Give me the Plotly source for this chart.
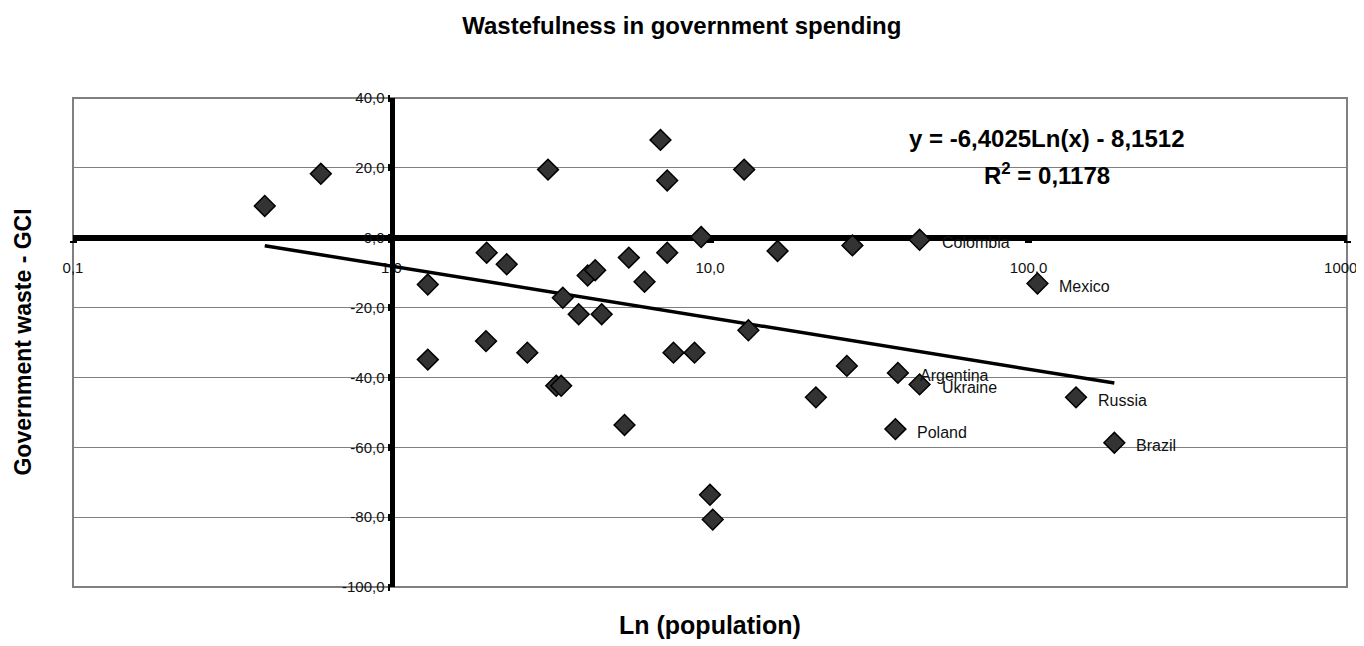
import numpy as np
import plotly.graph_objects as go

# population (log scale) vs government waste index
population = [0.40, 0.60, 1.30, 1.30, 1.99, 1.98, 2.30, 2.67, 3.10, 3.29,
              3.41, 3.45, 3.87, 4.13, 4.36, 4.57, 5.39, 5.56, 6.23, 6.99,
              7.34, 7.34, 7.68, 8.94, 9.38, 10.0, 10.2, 12.8, 13.2, 16.3,
              21.5, 26.9, 28.0, 45.5, 38.9, 45.5, 38.2, 106.7, 141.0, 186.0]
waste = [9.1, 18.3, -13.4, -34.9, -4.3, -29.6, -7.6, -32.9, 19.5, -42.4,
         -42.4, -17.2, -21.9, -10.8, -9.3, -21.9, -53.6, -5.7, -12.6, 28.0,
         16.4, -4.3, -32.9, -32.9, 0.2, -73.6, -80.7, 19.5, -26.5, -3.8,
         -45.7, -36.7, -2.2, -0.6, -38.7, -42.0, -54.8, -13.1, -45.7, -58.7]
names = [""] * 33 + ["Colombia", "Argentina", "Ukraine", "Poland",
                     "Mexico", "Russia", "Brazil"]

# logarithmic trendline shown on the chart
trend_a = -6.4025
trend_b = -8.1512
r_squared = "0,1178"

x_ticks = [0.1, 1, 10, 100, 1000]
x_ticktext = ["0,1", "1,0", "10,0", "100,0", "1000,0"]
y_ticks = [-100, -80, -60, -40, -20, 0, 20, 40]
y_ticktext = ["-100,0", "-80,0", "-60,0", "-40,0", "-20,0", "0,0", "20,0", "40,0"]

FONT = "Liberation Sans, Arial, sans-serif"

fig = go.Figure()

trend_x = np.array([min(population), max(population)])
trend_y = trend_a * np.log(trend_x) + trend_b
fig.add_trace(go.Scatter(
    x=trend_x, y=trend_y, mode="lines",
    line={"color": "black", "width": 3.5}, hoverinfo="skip"
))

fig.add_trace(go.Scatter(
    x=population, y=waste, mode="markers",
    marker={"symbol": "diamond", "size": 16, "color": "#333333",
            "line": {"color": "black", "width": 1.5}},
    text=names
))

for px, py, name in zip(population, waste, names):
    if name:
        fig.add_annotation(x=np.log10(px), y=py, text=name, showarrow=False,
                           xanchor="left", yanchor="middle", xshift=20, yshift=-3,
                           font={"family": FONT, "size": 16, "color": "#111"})

fig.add_annotation(xref="paper", yref="paper", x=0.7645, y=0.917,
                   text="y = %sLn(x) - %s" % (str(trend_a).replace(".", ","),
                                               str(-trend_b).replace(".", ",")),
                   showarrow=False, xanchor="center", yanchor="middle",
                   font={"family": FONT, "size": 24, "color": "black", "weight": "bold"})
fig.add_annotation(xref="paper", yref="paper", x=0.7645, y=0.8456,
                   text="R<sup>2</sup> = " + r_squared,
                   showarrow=False, xanchor="center", yanchor="middle",
                   font={"family": FONT, "size": 24, "color": "black", "weight": "bold"})

fig.add_annotation(xref="paper", yref="paper", x=0.5, y=-0.078,
                   text="Ln (population)", showarrow=False,
                   xanchor="center", yanchor="middle",
                   font={"family": FONT, "size": 25, "color": "black", "weight": "bold"})
fig.add_annotation(xref="paper", yref="paper", x=-0.04, y=0.5,
                   text="Government waste - GCI", showarrow=False, textangle=-90,
                   xanchor="center", yanchor="middle",
                   font={"family": FONT, "size": 23, "color": "black", "weight": "bold"})

# plot frame
fig.add_shape(type="rect", xref="paper", yref="paper", x0=0, y0=0, x1=1, y1=1,
              line={"color": "#808080", "width": 2}, layer="below")

fig.update_xaxes(
    type="log", range=[-1, 3], anchor="free", position=100 / 140,
    showline=True, linewidth=6, linecolor="black", showgrid=False, zeroline=False,
    tickvals=x_ticks, ticktext=x_ticktext, ticks="outside", ticklen=2,
    tickwidth=7, tickcolor="black", ticklabelstandoff=12,
    tickfont={"family": FONT, "size": 15, "color": "#111"},
    layer="below traces", automargin=False, fixedrange=True
)
fig.update_yaxes(
    range=[-100, 40], anchor="free", position=0.25,
    showline=True, linewidth=5, linecolor="black", showgrid=True,
    gridcolor="#808080", gridwidth=1, zeroline=False,
    tickvals=y_ticks, ticktext=y_ticktext, ticks="outside", ticklen=2,
    tickwidth=7, tickcolor="black",
    tickfont={"family": FONT, "size": 15, "color": "#111"},
    layer="below traces", automargin=False, fixedrange=True
)

# the page body adds an 8px offset, margins compensate for it
fig.update_layout(
    width=1364, height=646,
    margin={"l": 65, "r": 25, "t": 90, "b": 67},
    paper_bgcolor="white", plot_bgcolor="white",
    showlegend=False,
    title={"text": "<b>Wastefulness in government spending</b>",
           "x": 0.494, "xref": "container", "xanchor": "center",
           "y": 0.972, "yanchor": "middle",
           "font": {"family": FONT, "size": 24, "color": "black"}}
)

fig.write_html("out.html")
